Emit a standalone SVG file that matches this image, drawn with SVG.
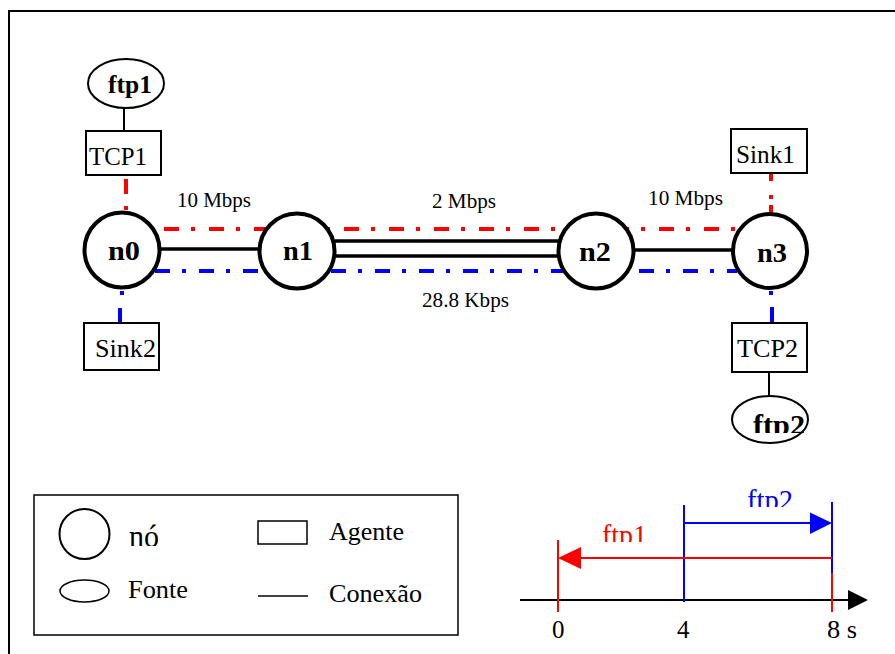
<svg xmlns="http://www.w3.org/2000/svg" width="895" height="654" viewBox="0 0 895 654" font-family="Liberation Serif, Times New Roman, serif">
<style>
.node circle{fill:#fff;stroke:#000;stroke-width:4}
.node text{font-weight:bold;font-size:28px}
.agent rect{fill:#fff;stroke:#000;stroke-width:2}
.agent text{font-size:25px}
.src ellipse{fill:#fff;stroke:#000;stroke-width:2}
.src text{font-weight:bold}
.link{stroke:#000;stroke-width:3.5;fill:none}
.thin{stroke:#000;stroke-width:2;fill:none}
.red{stroke:#f00;stroke-width:4;fill:none;stroke-dasharray:15 12 4 14}
.blue{stroke:#00f;stroke-width:4;fill:none;stroke-dasharray:15 12 4 13}
.redv{stroke:#f00;stroke-width:4;fill:none}
.bluev{stroke:#00f;stroke-width:4;fill:none}
.lbl{font-size:20px}
.leg{font-size:26px}
.tl{font-size:25px}
</style>
<defs>
<clipPath id="c-ftp2n"><rect x="700" y="380" width="150" height="53"/></clipPath>
<clipPath id="c-no"><rect x="100" y="500" width="100" height="46"/></clipPath>
<clipPath id="c-ftp1t"><rect x="580" y="480" width="100" height="62"/></clipPath>
<clipPath id="c-ftp2t"><rect x="720" y="470" width="100" height="37"/></clipPath>
</defs>
<rect width="895" height="654" fill="#fff"/>
<path d="M9,654 V11 H895" fill="none" stroke="#000" stroke-width="2"/>

<g id="connectors">
<path class="red" d="M164,229 H740"/>
<path class="blue" d="M155,271 H737"/>
<path class="link" d="M160,249 H259"/>
<path class="link" d="M335,241 H559 M335,256 H559"/>
<path class="link" d="M634,250 H733"/>
<path class="thin" d="M124,108 V131"/>
<path class="thin" d="M769,372 V396"/>
<path class="redv" d="M126,179 V194 M126,206 V210"/>
<path class="redv" d="M771,174 V181 M771,195 V199 M771,205 V213"/>
<path class="bluev" d="M122,291 V295 M120,308 V323"/>
<path class="bluev" d="M771,291 V295 M772,307 V323"/>
<text class="lbl" x="177" y="207" textLength="74" lengthAdjust="spacingAndGlyphs">10 Mbps</text>
<text class="lbl" x="432" y="208" textLength="64" lengthAdjust="spacingAndGlyphs">2 Mbps</text>
<text class="lbl" x="648" y="205" textLength="75" lengthAdjust="spacingAndGlyphs">10 Mbps</text>
<text class="lbl" x="422" y="307" textLength="87" lengthAdjust="spacingAndGlyphs">28.8 Kbps</text>
</g>

<g id="n0" class="node"><circle cx="122" cy="250" r="37.5"/><text x="108" y="260" textLength="32" lengthAdjust="spacingAndGlyphs">n0</text></g>
<g id="n1" class="node"><circle cx="297" cy="251" r="37.5"/><text x="283" y="260" textLength="30" lengthAdjust="spacingAndGlyphs">n1</text></g>
<g id="n2" class="node"><circle cx="596" cy="251" r="37.5"/><text x="579" y="261" textLength="32" lengthAdjust="spacingAndGlyphs">n2</text></g>
<g id="n3" class="node"><circle cx="770" cy="251" r="37"/><text x="757" y="262" textLength="30" lengthAdjust="spacingAndGlyphs">n3</text></g>

<g id="ftp1" class="src"><ellipse cx="126" cy="83.5" rx="38" ry="24.5"/><text x="108" y="93" font-size="25" textLength="44" lengthAdjust="spacingAndGlyphs">ftp1</text></g>
<g id="TCP1" class="agent"><rect x="86" y="131" width="75" height="44"/><text x="89" y="165" textLength="58" lengthAdjust="spacingAndGlyphs">TCP1</text></g>
<g id="Sink2" class="agent"><rect x="84" y="323" width="75" height="47"/><text x="95" y="357" textLength="61" lengthAdjust="spacingAndGlyphs">Sink2</text></g>
<g id="Sink1" class="agent"><rect x="731" y="129" width="76" height="44"/><text x="736" y="163" textLength="59" lengthAdjust="spacingAndGlyphs">Sink1</text></g>
<g id="TCP2" class="agent"><rect x="732" y="323" width="75" height="49"/><text x="737" y="357" textLength="61" lengthAdjust="spacingAndGlyphs">TCP2</text></g>
<g id="ftp2" class="src"><ellipse cx="770" cy="419.5" rx="38" ry="23.5"/><text x="753" y="435" font-size="29" textLength="52" lengthAdjust="spacingAndGlyphs" clip-path="url(#c-ftp2n)">ftp2</text></g>

<g id="legend">
<rect x="34" y="495" width="424" height="140" fill="none" stroke="#000" stroke-width="1.5"/>
<circle cx="84.5" cy="534" r="25" fill="none" stroke="#000" stroke-width="2"/>
<text x="129" y="547" font-size="32" textLength="30" lengthAdjust="spacingAndGlyphs" clip-path="url(#c-no)">nó</text>
<rect x="258" y="521" width="49" height="23" fill="none" stroke="#000" stroke-width="1.5"/>
<text class="leg" x="329" y="540" textLength="75" lengthAdjust="spacingAndGlyphs">Agente</text>
<ellipse cx="84.5" cy="591" rx="24.5" ry="11" fill="none" stroke="#000" stroke-width="1.5"/>
<text class="leg" x="128" y="598" textLength="60" lengthAdjust="spacingAndGlyphs">Fonte</text>
<path d="M258,596 H308" stroke="#000" stroke-width="1.5"/>
<text class="leg" x="329" y="602" textLength="93" lengthAdjust="spacingAndGlyphs">Conexão</text>
</g>

<g id="timeline">
<path d="M520,600 H850" stroke="#000" stroke-width="2"/>
<polygon points="848,590 868,600 848,610" fill="#000"/>
<path d="M558,540 V612" stroke="#f00" stroke-width="2"/>
<path d="M684,505 V602" stroke="#00f" stroke-width="2"/>
<path d="M832,502 V573" stroke="#00f" stroke-width="2"/>
<path d="M832,573 V612" stroke="#f00" stroke-width="2"/>
<path d="M684,523 H812" stroke="#00f" stroke-width="2"/>
<polygon points="810,512.5 832,523 810,534" fill="#00f"/>
<path d="M832,558 H578" stroke="#f00" stroke-width="2"/>
<polygon points="581,547 558,558 581,569" fill="#f00"/>
<text x="747" y="510" font-size="30" textLength="46" lengthAdjust="spacingAndGlyphs" fill="#00f" clip-path="url(#c-ftp2t)">ftp2</text>
<text x="602" y="545" font-size="30" textLength="45" lengthAdjust="spacingAndGlyphs" fill="#f00" clip-path="url(#c-ftp1t)">ftp1</text>
<text class="tl" x="552" y="638">0</text>
<text class="tl" x="677" y="638">4</text>
<text class="tl" x="827" y="638" textLength="30" lengthAdjust="spacingAndGlyphs">8 s</text>
</g>
</svg>
